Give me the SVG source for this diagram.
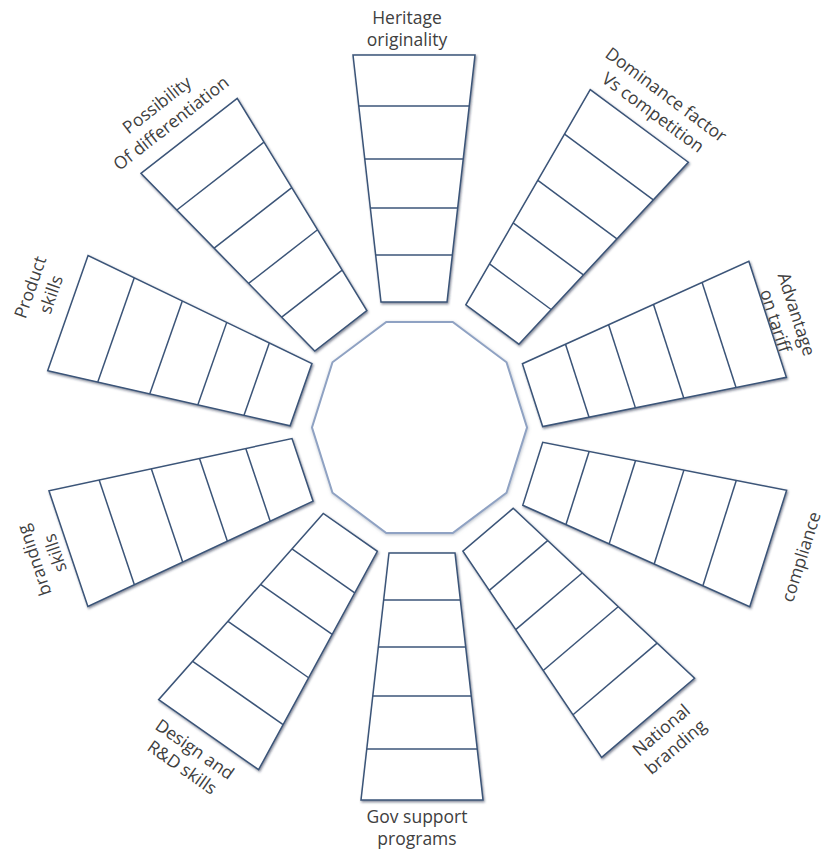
<svg xmlns="http://www.w3.org/2000/svg" xmlns:xlink="http://www.w3.org/1999/xlink" width="826" height="855" viewBox="0 0 826 855">
  <style>
    .spoke polygon, .spoke line { fill: none; stroke: #3b5478; stroke-width: 1.5; stroke-linejoin: miter; }
    .spoke polygon { fill: #ffffff; }
    .hub { fill: #ffffff; stroke: #8fa2c3; stroke-width: 2; }
    .label { font-family: "Open Sans", "Noto Sans", "Liberation Sans", sans-serif; font-size: 17.5px; fill: #404040; text-anchor: middle; }
  </style>
  <defs>
    <filter id="shade" x="-20%" y="-20%" width="140%" height="140%">
      <feDropShadow dx="1" dy="1.5" stdDeviation="1" flood-color="#1c2c44" flood-opacity="0.55"/>
    </filter>
    <filter id="hubShade" x="-10%" y="-10%" width="120%" height="120%">
      <feDropShadow dx="0.5" dy="1" stdDeviation="1.5" flood-color="#6c7a90" flood-opacity="0.5"/>
    </filter>
    <!-- one spoke pointing straight up from the hub centre: tapered bar split into five cells -->
    <g id="spoke-shape" class="spoke">
      <polygon points="-61,-372 61,-372 33,-125 -33,-125"/>
      <line x1="-55.2" y1="-321" x2="55.2" y2="-321"/>
      <line x1="-49.2" y1="-268" x2="49.2" y2="-268"/>
      <line x1="-43.7" y1="-219" x2="43.7" y2="-219"/>
      <line x1="-38.3" y1="-172" x2="38.3" y2="-172"/>
    </g>
  </defs>

  <rect width="826" height="855" fill="#ffffff"/>

  <!-- central decagon -->
  <g id="hub" filter="url(#hubShade)">
    <polygon class="hub" points="527,427.5 506.5,362.3 452.7,321.9 386.3,321.9 332.5,362.3 312,427.5 332.5,492.7 386.3,533.1 452.7,533.1 506.5,492.7"/>
  </g>

  <g id="node-heritage">
    <g filter="url(#shade)"><use href="#spoke-shape" transform="translate(414 427)"/></g>
    <text class="label" transform="translate(414 427)"><tspan x="-7" y="-403">Heritage</tspan><tspan x="-7" y="-381">originality</tspan></text>
  </g>

  <g id="node-dominance">
    <g filter="url(#shade)"><use href="#spoke-shape" transform="translate(418 425) rotate(36.5)"/></g>
    <text class="label" transform="translate(418 425) rotate(36.5)"><tspan x="3" y="-407">Dominance factor</tspan><tspan x="3" y="-385">Vs competition</tspan></text>
  </g>

  <g id="node-advantage">
    <g filter="url(#shade)"><use href="#spoke-shape" transform="translate(413.6 433.6) rotate(72.1)"/></g>
    <text class="label" transform="translate(413.6 433.6) rotate(72.1)"><tspan x="4" y="-395">Advantage</tspan><tspan x="4" y="-373">on tariff</tspan></text>
  </g>

  <g id="node-compliance">
    <g filter="url(#shade)"><use href="#spoke-shape" transform="translate(413.6 436) rotate(107.6)"/></g>
    <text class="label" transform="translate(413.6 436) rotate(-72.4)"><tspan x="2" y="412">compliance</tspan></text>
  </g>

  <g id="node-national">
    <g filter="url(#shade)"><use href="#spoke-shape" transform="translate(407 434.5) rotate(139.6)"/></g>
    <text class="label" transform="translate(407 434.5) rotate(-40.4)"><tspan x="2" y="396">National</tspan><tspan x="2" y="418">branding</tspan></text>
  </g>

  <g id="node-gov">
    <g filter="url(#shade)"><use href="#spoke-shape" transform="translate(422 428) rotate(180)"/></g>
    <text class="label" transform="translate(422 428)"><tspan x="-5" y="395">Gov support</tspan><tspan x="-5" y="417">programs</tspan></text>
  </g>

  <g id="node-design">
    <g filter="url(#shade)"><use href="#spoke-shape" transform="translate(422 430) rotate(215)"/></g>
    <text class="label" transform="translate(422 430) rotate(35)"><tspan x="-3" y="398">Design and</tspan><tspan x="-3" y="420">R&amp;D skills</tspan></text>
  </g>

  <g id="node-branding">
    <g filter="url(#shade)"><use href="#spoke-shape" transform="translate(421 430) rotate(251.4)"/></g>
    <text class="label" transform="translate(421 430) rotate(-108.6)"><tspan x="0" y="-402">branding</tspan><tspan x="0" y="-380">skills</tspan></text>
  </g>

  <g id="node-product">
    <g filter="url(#shade)"><use href="#spoke-shape" transform="translate(419 436) rotate(289.3)"/></g>
    <text class="label" transform="translate(419 436) rotate(-70.7)"><tspan x="12" y="-410">Product</tspan><tspan x="12" y="-388">skills</tspan></text>
  </g>

  <g id="node-possibility">
    <g filter="url(#shade)"><use href="#spoke-shape" transform="translate(417.6 429.4) rotate(322.1)"/></g>
    <text class="label" transform="translate(417.6 429.4) rotate(-37.9)"><tspan x="-6.5" y="-410">Possibility</tspan><tspan x="-6.5" y="-387">Of differentiation</tspan></text>
  </g>
</svg>
